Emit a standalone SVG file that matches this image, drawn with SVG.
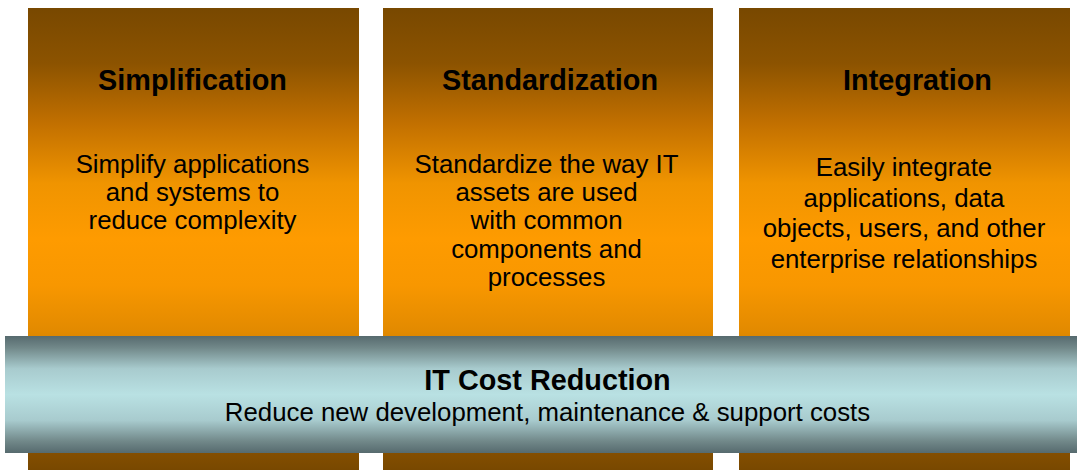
<svg xmlns="http://www.w3.org/2000/svg" width="1077" height="470" viewBox="0 0 1077 470">
  <defs>
    <!-- pillar fill: dark brown at the ends, bright orange in the middle -->
    <linearGradient id="pillarFill" gradientUnits="userSpaceOnUse" x1="0" y1="8" x2="0" y2="470">
      <stop offset="0" stop-color="#784800"/>
      <stop offset="0.12" stop-color="#8c5300"/>
      <stop offset="0.25" stop-color="#c27000"/>
      <stop offset="0.38" stop-color="#f09400"/>
      <stop offset="0.5" stop-color="#fe9b00"/>
      <stop offset="0.6" stop-color="#f89700"/>
      <stop offset="0.7" stop-color="#e28a00"/>
      <stop offset="0.85" stop-color="#a86200"/>
      <stop offset="1" stop-color="#784800"/>
    </linearGradient>
    <!-- base bar fill: slate edges, pale cyan centre -->
    <linearGradient id="barFill" gradientUnits="userSpaceOnUse" x1="0" y1="336" x2="0" y2="453">
      <stop offset="0" stop-color="#566a6e"/>
      <stop offset="0.1" stop-color="#718889"/>
      <stop offset="0.28" stop-color="#a8cbce"/>
      <stop offset="0.5" stop-color="#b9e1e3"/>
      <stop offset="0.72" stop-color="#a8cbce"/>
      <stop offset="0.9" stop-color="#718889"/>
      <stop offset="1" stop-color="#566a6e"/>
    </linearGradient>
  </defs>
  <style>
    .pillar { fill: url(#pillarFill); }
    .bar { fill: url(#barFill); }
    .title { font-family: "Liberation Sans", Arial, sans-serif; font-weight: bold; font-size: 28.8px; fill: #000; text-anchor: middle; }
    .body { font-family: "Liberation Sans", Arial, sans-serif; font-size: 25.8px; fill: #000; text-anchor: middle; }
  </style>

  <g id="simplification">
    <rect class="pillar" x="28" y="8" width="331" height="462"/>
    <text class="title" x="192.5" y="89.5">Simplification</text>
    <text class="body" x="192.5" y="172.5">Simplify applications</text>
    <text class="body" x="192.5" y="200.8">and systems to</text>
    <text class="body" x="192.5" y="229">reduce complexity</text>
  </g>

  <g id="standardization">
    <rect class="pillar" x="383" y="8" width="330" height="462"/>
    <text class="title" x="550" y="89.5">Standardization</text>
    <text class="body" x="546.5" y="172.5">Standardize the way IT</text>
    <text class="body" x="546.5" y="200.9">assets are used</text>
    <text class="body" x="546.5" y="229.2">with common</text>
    <text class="body" x="546.5" y="257.6">components and</text>
    <text class="body" x="546.5" y="285.8">processes</text>
  </g>

  <g id="integration">
    <rect class="pillar" x="739" y="8" width="331" height="462"/>
    <text class="title" x="917.5" y="89.5">Integration</text>
    <text class="body" x="904" y="176">Easily integrate</text>
    <text class="body" x="904" y="206.8">applications, data</text>
    <text class="body" x="904" y="237.3">objects, users, and other</text>
    <text class="body" x="904" y="268.3">enterprise relationships</text>
  </g>

  <g id="cost-reduction">
    <rect class="bar" x="5" y="336" width="1072" height="117"/>
    <text class="title" x="547.5" y="389.5">IT Cost Reduction</text>
    <text class="body" x="547.5" y="421.3">Reduce new development, maintenance &amp; support costs</text>
  </g>

  <g id="connectors"/>
</svg>
